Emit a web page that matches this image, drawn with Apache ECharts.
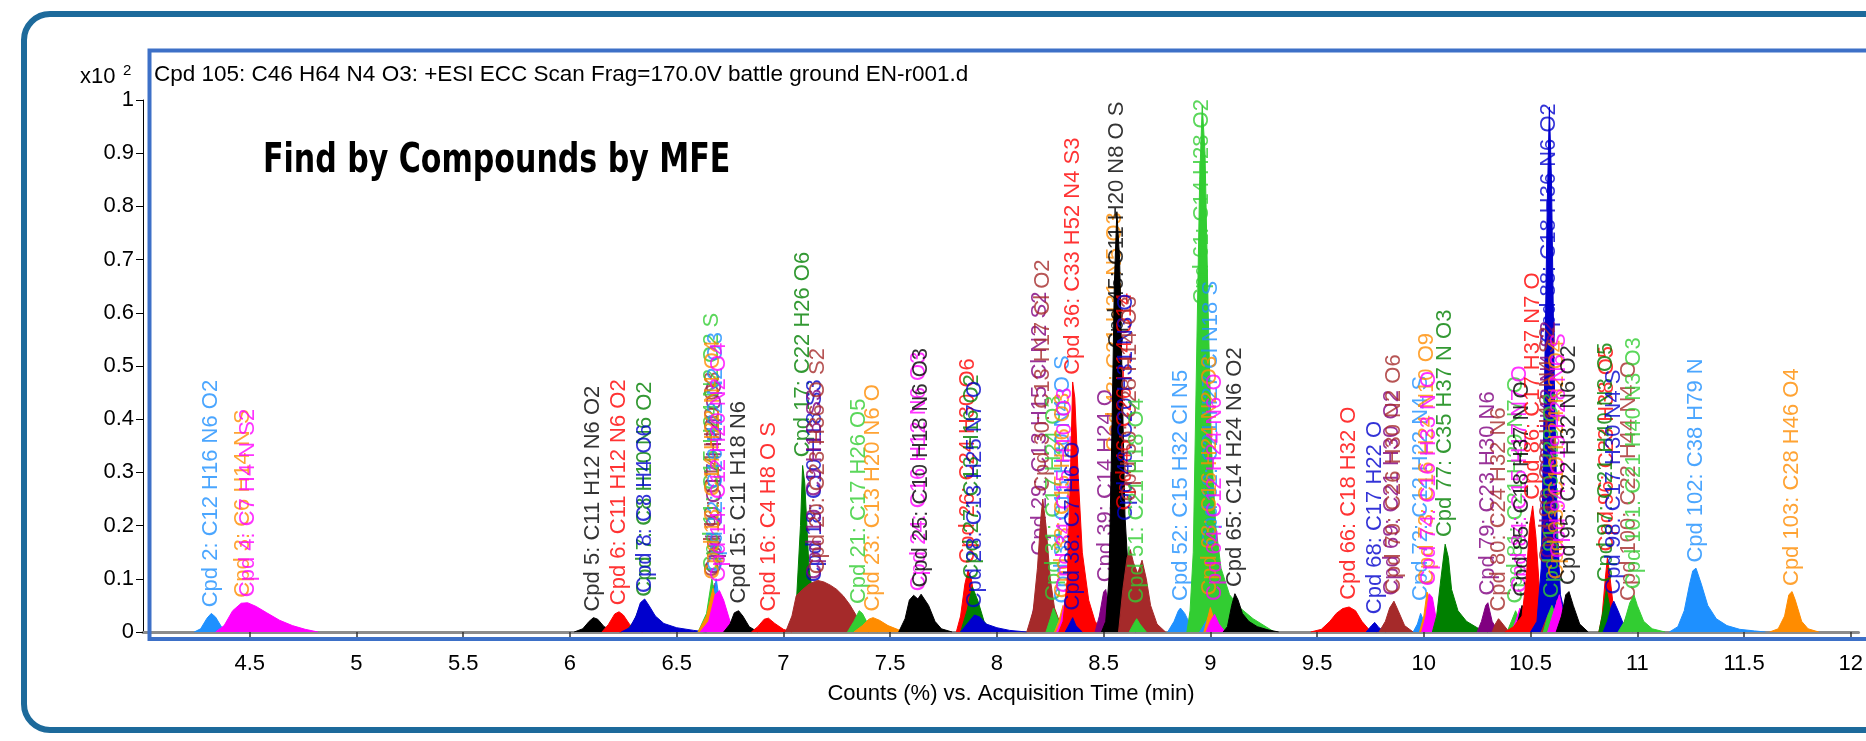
<!DOCTYPE html>
<html><head><meta charset="utf-8">
<script src="https://cdn.jsdelivr.net/npm/echarts@6/dist/echarts.min.js"></script>
<style>html,body{margin:0;padding:0;background:#fff}#c{width:1866px;height:741px}</style>
</head><body><div id="c"></div>
<script>
const cpdIds = [2,3,4,5,6,7,8,9,10,11,12,13,14,15,16,17,18,19,20,21,23,24,25,26,27,28,29,30,31,32,33,34,36,38,39,43,45,46,48,50,51,52,61,62,63,64,65,66,68,69,70,72,73,74,77,79,80,81,84,85,86,88,89,90,91,93,94,95,96,97,98,100,101,102,103];
const cpdFormulas = ['C12 H16 N6 O2','C6 H14 N S','C7 H4 N S2','C11 H12 N6 O2','C11 H12 N6 O2','C8 H10 N6 O2','C8 H4 O6','C17 H24 O3','C14 H20 O3','C15 H24 N2 O2 S','C16 H22 N2 O3','C14 H22 N4 O4','C12 H20 N2 O4','C11 H18 N6','C4 H8 O S','C22 H26 O6','C10 H18 S3','C9 H18 S3','C23 H36 O S2','C17 H26 O5','C13 H20 N6 O','C16 H12 N6 O3','C10 H18 N6 O3','C24 H30 O6','C13 H16 O2','C13 H25 N7 O','C13 H15 Cl N2 S2','C13 H17 Cl O2','C17 H24 O3','C15 H30 N4 O S','C15 H26 O3','C15 H10 O3','C33 H52 N4 S3','C7 H6 O','C14 H24 O','C21 H31 N5 O3','C11 H20 N8 O S','C26 H14 O14','C20 H31 N3 O','C28 H14 O3','C21 H18 O4','C15 H32 Cl N5','C14 H28 O2','C21 H27 Cl N18 S','C16 H24 N2 O3','C12 H24 N6 O','C14 H24 N6 O2','C18 H32 O','C17 H22 O','C21 H30 O2','C26 H30 N2 O6','C12 H22 N4 S','C16 H24 N10 O9','C16 H33 N O','C35 H37 N O3','C23 H30 N6','C24 H32 N6','C21 H29 N7 O','C15 H17 N7 O','C18 H37 N O','C17 H37 N7 O','C18 H36 N6 O2','C21 H42 N4 S2','C22 H42 N4 S2','C20 H28 O3','C19 H24 N2 O4','C19 H28 N6 S','C22 H32 N6 O2','C23 H38 O5','C21 H40 N3 O5','C17 H30 N4 S','C22 H44 N4 O','C21 H40 N3 O3','C38 H79 N','C28 H46 O4'];
const labelHeights = [0.038,0.056,0.057,0.03,0.042,0.058,0.065,0.1,0.095,0.105,0.105,0.09,0.085,0.045,0.03,0.32,0.085,0.09,0.1,0.044,0.03,0.068,0.075,0.12,0.09,0.036,0.135,0.255,0.05,0.045,0.055,0.065,0.475,0.032,0.085,0.33,0.525,0.22,0.2,0.237,0.045,0.05,0.607,0.155,0.06,0.05,0.076,0.052,0.025,0.06,0.063,0.05,0.08,0.078,0.17,0.06,0.03,0.045,0.065,0.058,0.24,0.535,0.13,0.12,0.055,0.09,0.13,0.08,0.143,0.085,0.062,0.05,0.072,0.122,0.078];
const traceTimes = [
[4.24,4.27,4.30,4.32,4.34,4.37,4.40,4.45],
[4.36,4.40,4.44,4.47,4.52,4.58,4.65,4.72,4.80],
[4.34,4.38,4.42,4.46,4.49,4.53,4.58,4.64,4.70,4.76,4.82],
[6.02,6.06,6.09,6.11,6.13,6.16,6.20,6.24],
[6.15,6.18,6.21,6.23,6.25,6.28,6.31,6.34],
[6.26,6.30,6.33,6.35,6.38,6.42,6.47],
[6.24,6.28,6.31,6.33,6.35,6.37,6.40,6.44,6.50,6.58,6.64],
[6.62,6.66,6.68,6.70,6.74],
[6.61,6.65,6.67,6.69,6.73],
[6.60,6.64,6.665,6.69,6.74],
[6.62,6.66,6.685,6.71,6.75],
[6.60,6.64,6.67,6.70,6.76],
[6.61,6.65,6.68,6.70,6.72,6.75,6.78],
[6.72,6.75,6.77,6.79,6.81,6.84,6.88],
[6.85,6.88,6.91,6.93,6.96,7.00,7.04],
[7.03,7.06,7.08,7.09,7.10,7.12,7.15,7.20],
[7.08,7.12,7.15,7.19,7.24],
[7.08,7.12,7.15,7.19,7.24],
[7.01,7.04,7.06,7.09,7.12,7.16,7.19,7.22,7.25,7.28,7.31,7.34,7.37,7.40],
[7.30,7.33,7.355,7.37,7.40,7.44],
[7.33,7.37,7.40,7.42,7.45,7.49,7.54,7.58],
[7.55,7.58,7.61,7.635,7.66,7.70,7.74],
[7.54,7.57,7.59,7.61,7.63,7.645,7.68,7.71,7.74,7.79],
[7.81,7.83,7.85,7.865,7.88,7.90,7.93,7.97],
[7.83,7.86,7.885,7.91,7.94,7.98],
[7.83,7.86,7.895,7.92,7.95,8.00,8.06,8.14],
[8.15,8.18,8.20,8.22,8.25],
[8.14,8.17,8.19,8.205,8.215,8.23,8.25,8.27,8.30,8.33],
[8.23,8.25,8.265,8.28,8.31],
[8.27,8.29,8.31,8.33,8.36],
[8.27,8.29,8.31,8.33,8.36],
[8.28,8.30,8.32,8.34,8.37],
[8.29,8.31,8.33,8.345,8.355,8.365,8.38,8.40,8.43,8.46,8.50],
[8.32,8.34,8.355,8.37,8.40],
[8.46,8.48,8.50,8.51,8.53,8.56],
[8.52,8.54,8.555,8.57,8.59,8.62],
[8.49,8.51,8.525,8.54,8.55,8.562,8.575,8.588,8.60,8.62,8.65,8.69],
[8.57,8.59,8.60,8.62,8.65],
[8.57,8.59,8.605,8.62,8.65],
[8.57,8.59,8.61,8.625,8.64,8.66,8.68,8.70,8.72,8.75,8.79],
[8.62,8.64,8.655,8.67,8.70],
[8.80,8.83,8.85,8.86,8.88,8.91,8.95],
[8.89,8.905,8.92,8.935,8.95,8.962,8.975,8.99,9.005,9.025,9.05,9.09,9.14,9.20,9.30],
[8.95,8.98,9.005,9.03,9.06],
[8.97,8.99,9.0,9.02,9.05],
[8.98,9.0,9.02,9.04,9.07],
[9.06,9.08,9.10,9.115,9.13,9.15,9.18,9.22,9.27,9.32],
[9.47,9.52,9.56,9.59,9.62,9.65,9.68,9.71,9.74,9.78],
[9.73,9.755,9.77,9.79,9.82],
[9.80,9.83,9.85,9.87,9.90],
[9.79,9.82,9.84,9.86,9.88,9.91,9.95],
[9.95,9.97,9.985,10.0,10.02],
[9.98,10.0,10.015,10.03,10.05,10.08],
[9.99,10.01,10.025,10.04,10.06,10.09],
[10.04,10.06,10.08,10.10,10.115,10.13,10.16,10.20,10.25,10.30],
[10.25,10.27,10.29,10.30,10.32,10.35],
[10.32,10.335,10.35,10.37,10.40],
[10.39,10.41,10.43,10.45,10.48],
[10.41,10.43,10.45,10.47,10.50],
[10.42,10.44,10.46,10.48,10.51],
[10.38,10.42,10.46,10.48,10.495,10.51,10.525,10.545,10.575,10.62],
[10.50,10.53,10.55,10.565,10.578,10.588,10.598,10.61,10.625,10.64,10.67,10.72],
[10.55,10.57,10.585,10.60,10.62],
[10.55,10.57,10.58,10.60,10.63],
[10.56,10.58,10.60,10.62,10.65],
[10.59,10.61,10.625,10.64,10.67],
[10.58,10.61,10.635,10.65,10.68],
[10.62,10.645,10.665,10.68,10.70,10.73,10.77],
[10.82,10.835,10.85,10.86,10.87,10.89,10.92],
[10.82,10.84,10.855,10.87,10.90],
[10.84,10.86,10.88,10.89,10.91,10.94,10.98],
[10.92,10.94,10.96,10.98,11.01],
[10.91,10.94,10.965,10.985,11.0,11.03,11.07,11.13],
[11.15,11.19,11.22,11.245,11.26,11.275,11.30,11.33,11.37,11.42,11.48,11.55,11.60],
[11.62,11.66,11.69,11.71,11.725,11.74,11.77,11.80,11.85]
];
const traceCounts = [
[0,0.006,0.026,0.035,0.028,0.008,0.002,0],
[0,0.02,0.045,0.052,0.045,0.028,0.014,0.005,0],
[0,0.012,0.04,0.054,0.055,0.048,0.036,0.022,0.012,0.005,0],
[0,0.006,0.02,0.027,0.024,0.01,0.003,0],
[0,0.014,0.034,0.038,0.032,0.014,0.004,0],
[0,0.02,0.05,0.055,0.03,0.01,0],
[0,0.008,0.03,0.055,0.062,0.05,0.03,0.016,0.008,0.003,0],
[0,0.03,0.092,0.04,0],
[0,0.03,0.088,0.035,0],
[0,0.035,0.1,0.04,0],
[0,0.03,0.1,0.035,0],
[0,0.03,0.082,0.03,0],
[0,0.02,0.07,0.078,0.06,0.02,0],
[0,0.015,0.036,0.04,0.03,0.01,0],
[0,0.01,0.024,0.026,0.016,0.005,0],
[0,0.05,0.2,0.313,0.28,0.12,0.04,0],
[0,0.05,0.075,0.05,0],
[0,0.06,0.082,0.055,0],
[0,0.03,0.068,0.08,0.09,0.097,0.094,0.088,0.08,0.068,0.052,0.032,0.01,0],
[0,0.02,0.04,0.035,0.012,0],
[0,0.012,0.024,0.027,0.022,0.012,0.004,0],
[0,0.03,0.058,0.064,0.06,0.02,0],
[0,0.025,0.06,0.069,0.062,0.071,0.05,0.02,0.006,0],
[0,0.03,0.09,0.116,0.1,0.05,0.015,0],
[0,0.04,0.085,0.06,0.02,0],
[0,0.015,0.032,0.028,0.015,0.008,0.003,0],
[0,0.06,0.13,0.07,0],
[0,0.04,0.12,0.21,0.25,0.2,0.1,0.045,0.012,0],
[0,0.025,0.045,0.03,0],
[0,0.02,0.04,0.025,0],
[0,0.02,0.05,0.02,0],
[0,0.02,0.06,0.02,0],
[0,0.02,0.1,0.3,0.47,0.44,0.3,0.15,0.06,0.02,0],
[0,0.015,0.027,0.012,0],
[0,0.03,0.075,0.08,0.03,0],
[0,0.2,0.5,0.45,0.1,0],
[0,0.02,0.1,0.4,0.65,0.79,0.7,0.45,0.22,0.08,0.02,0],
[0,0.02,0.03,0.015,0],
[0,0.015,0.025,0.01,0],
[0,0.08,0.14,0.155,0.13,0.11,0.135,0.1,0.05,0.015,0],
[0,0.015,0.025,0.015,0],
[0,0.02,0.04,0.045,0.035,0.01,0],
[0,0.04,0.15,0.5,0.85,0.99,0.9,0.6,0.35,0.2,0.12,0.07,0.045,0.025,0],
[0,0.02,0.03,0.02,0],
[0,0.03,0.046,0.02,0],
[0,0.02,0.033,0.015,0],
[0,0.01,0.05,0.072,0.06,0.035,0.02,0.01,0.004,0],
[0,0.005,0.02,0.035,0.044,0.047,0.04,0.02,0.006,0],
[0,0.012,0.018,0.008,0],
[0,0.02,0.045,0.02,0],
[0,0.02,0.045,0.058,0.04,0.012,0],
[0,0.015,0.035,0.02,0],
[0,0.03,0.075,0.06,0.02,0],
[0,0.03,0.072,0.065,0.02,0],
[0,0.03,0.1,0.165,0.14,0.08,0.04,0.02,0.008,0],
[0,0.02,0.05,0.055,0.02,0],
[0,0.015,0.025,0.015,0],
[0,0.02,0.04,0.02,0],
[0,0.02,0.045,0.02,0],
[0,0.02,0.05,0.03,0],
[0,0.01,0.03,0.1,0.2,0.237,0.18,0.06,0.015,0],
[0,0.02,0.12,0.45,0.8,0.987,0.85,0.5,0.2,0.07,0.02,0],
[0,0.02,0.035,0.02,0],
[0,0.02,0.03,0.015,0],
[0,0.03,0.05,0.03,0],
[0,0.03,0.06,0.03,0],
[0,0.04,0.07,0.04,0],
[0,0.03,0.07,0.076,0.05,0.015,0],
[0,0.03,0.1,0.14,0.11,0.04,0],
[0,0.04,0.08,0.05,0],
[0,0.02,0.05,0.058,0.04,0.01,0],
[0,0.02,0.04,0.02,0],
[0,0.02,0.055,0.069,0.05,0.02,0.006,0],
[0,0.01,0.04,0.09,0.115,0.12,0.09,0.05,0.025,0.012,0.005,0.002,0],
[0,0.006,0.03,0.07,0.076,0.06,0.02,0.006,0]
];
const xTickValues = [4.5,5,5.5,6,6.5,7,7.5,8,8.5,9,9.5,10,10.5,11,11.5,12];
const headerText = 'Cpd 105: C46 H64 N4 O3: +ESI ECC Scan Frag=170.0V battle ground EN-r001.d';
const titleText = 'Find by Compounds by MFE';
const xAxisTitle = 'Counts (%) vs. Acquisition Time (min)';
// colour by last digit of the compound number
const colorCycle = ['#A52A2A','#32CD32','#1E90FF','#FF8C00','#FF00FF','#000000','#FF0000','#008000','#0000CD','#800080'];

const FONT = '"Liberation Sans", Arial, sans-serif';
const series = [];
cpdIds.forEach((id, k) => {
  const col = colorCycle[id % 10];
  const t = traceTimes[k], y = traceCounts[k];
  let ai = 0; y.forEach((v, j) => { if (v > y[ai]) ai = j; });
  series.push({
    type: 'line', z: 10 + k, data: t.map((v, j) => [v, y[j]]),
    showSymbol: false, symbol: 'none', silent: true,
    lineStyle: { color: col, width: 1 }, itemStyle: { color: col },
    areaStyle: { color: col, opacity: 1 }
  });
  series.push({
    type: 'scatter', z: 10 + k, silent: true,
    data: [[t[ai], labelHeights[k]]], symbolSize: 1,
    itemStyle: { color: 'rgba(0,0,0,0)' },
    label: { show: true, position: 'top', distance: 4, rotate: 90, align: 'left', verticalAlign: 'middle',
      formatter: 'Cpd ' + id + ': ' + cpdFormulas[k], color: col, fontSize: 22, fontFamily: FONT }
  });
});

const fmt = v => String(Math.round(v * 10) / 10);
const chart = echarts.init(document.getElementById('c'), null, { renderer: 'canvas' });
chart.setOption({
  animation: false,
  backgroundColor: '#fff',
  textStyle: { fontFamily: FONT },
  grid: { left: 143, top: 100, right: 0, height: 532 },
  xAxis: {
    type: 'value', min: 4, max: 12.0364, interval: 0.5, offset: 14,
    axisLine: { lineStyle: { color: '#8c8c8c', width: 3 } },
    axisTick: { customValues: xTickValues, length: 8, lineStyle: { color: '#333', width: 1.5 } },
    axisLabel: { customValues: xTickValues, margin: 7, fontSize: 22, color: '#000', fontFamily: FONT, formatter: fmt },
    splitLine: { show: false }
  },
  yAxis: {
    type: 'value', min: 0, max: 1, interval: 0.1,
    axisLine: { show: true, lineStyle: { color: '#000', width: 1 } },
    axisTick: { show: true, length: 7, lineStyle: { color: '#000' } },
    axisLabel: { margin: 9, fontSize: 22, color: '#000', fontFamily: FONT, formatter: fmt },
    splitLine: { show: false }
  },
  graphic: [
    { type: 'rect', z: 1, silent: true, shape: { x: 24, y: 14, width: 1900, height: 716, r: 26 },
      style: { fill: 'none', stroke: '#1d6a9b', lineWidth: 6 } },
    { type: 'rect', z: 1, silent: true, shape: { x: 149.5, y: 50.5, width: 1800, height: 588.5 },
      style: { fill: 'none', stroke: '#3d70c7', lineWidth: 4 } },
    { type: 'text', z: 5, x: 154, y: 75, style: { text: headerText, font: '22.5px ' + FONT, fill: '#000', verticalAlign: 'middle' } },
    { type: 'text', z: 5, x: 80, y: 77, style: { text: 'x10', font: '22px ' + FONT, fill: '#000', verticalAlign: 'middle' } },
    { type: 'text', z: 5, x: 123, y: 71, style: { text: '2', font: '15px ' + FONT, fill: '#000', verticalAlign: 'middle' } },
    { type: 'text', z: 5, x: 263, y: 161, scaleX: 0.815, style: { text: titleText, font: 'bold 41px "Liberation Sans Narrow", "DejaVu Sans Condensed", sans-serif', fill: '#000', verticalAlign: 'middle' } },
    { type: 'text', z: 5, x: 1011, y: 694, style: { text: xAxisTitle, font: '22px ' + FONT, fill: '#000', align: 'center', verticalAlign: 'middle' } }
  ],
  series: series
});
</script>
</body></html>
